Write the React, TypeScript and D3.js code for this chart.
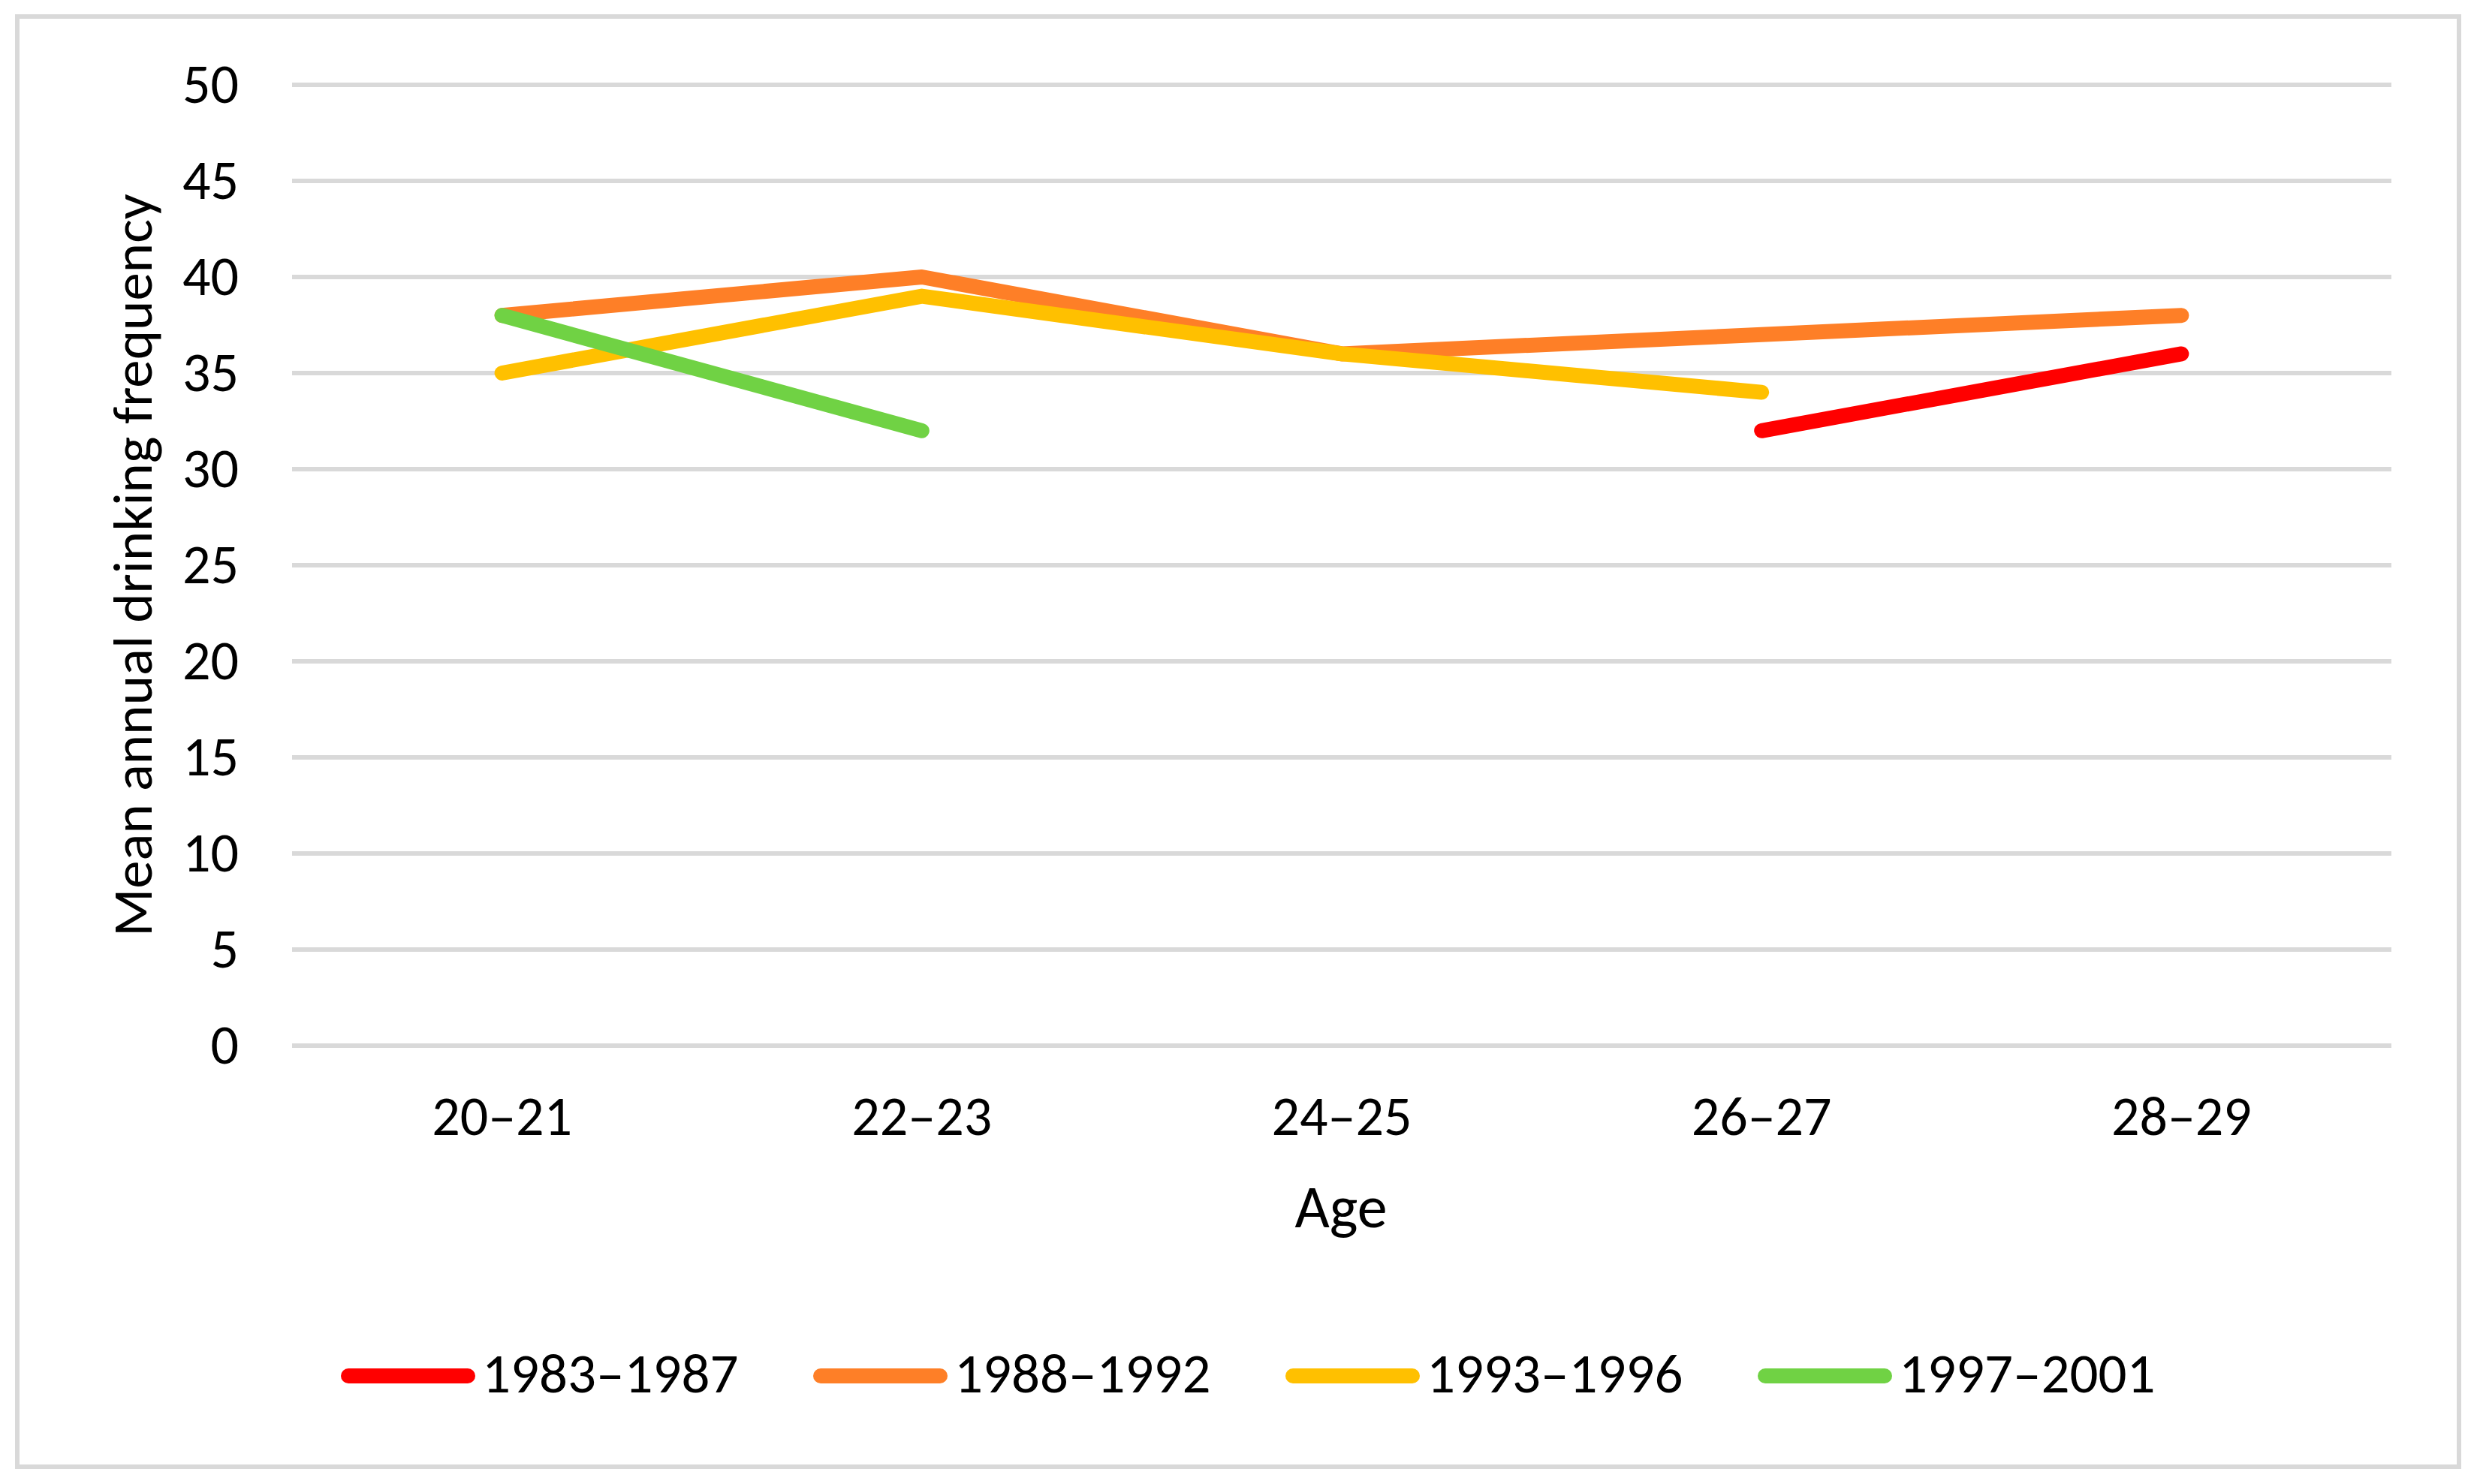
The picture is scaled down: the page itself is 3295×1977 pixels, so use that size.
import React from "react";
import * as d3 from "d3";

const categories = ["20–21", "22–23", "24–25", "26–27", "28–29"];
const seriesNames = ["1983–1987", "1988–1992", "1993–1996", "1997–2001"];
const seriesColors = ["#FF0000", "#FE7F27", "#FFC000", "#70D244"];
const s1983: (number | null)[] = [null, null, null, 32, 36];
const s1988: (number | null)[] = [38, 40, 36, 37, 38];
const s1993: (number | null)[] = [35, 39, 36, 34, null];
const s1997: (number | null)[] = [38, 32, null, null, null];
const seriesValues = [s1983, s1988, s1993, s1997];
const yTicks = [0, 5, 10, 15, 20, 25, 30, 35, 40, 45, 50];
const yTitle = "Mean annual drinking frequency";
const xTitle = "Age";

const W = 3295;
const H = 1977;
const FONT = "Calibri, Carlito, 'Liberation Sans', Arial, sans-serif";

export default function App() {
  const x = d3.scaleBand<string>().domain(categories).range([389, 3185]).padding(0);
  const y = d3.scaleLinear().domain([0, 50]).range([1393, 113]);
  const line = d3
    .line<number | null>()
    .defined((d) => d !== null)
    .x((_, i) => (x(categories[i]) as number) + x.bandwidth() / 2)
    .y((d) => y(d as number));

  const legendStart = 454;
  const legendStep = 629;
  const legendY = 1833;

  return (
    <div style={{ position: "fixed", left: 0, top: 0 }}>
      <svg width={W} height={H} viewBox={`0 0 ${W} ${H}`} style={{ display: "block", background: "#fff" }}>
        <rect x={0} y={0} width={W} height={H} fill="#fff" />
        <rect x={23} y={22} width={3252} height={1932} fill="none" stroke="#D9D9D9" strokeWidth={6} />
        {yTicks.map((t) => (
          <g key={t}>
            <line x1={389} x2={3185} y1={y(t)} y2={y(t)} stroke="#D9D9D9" strokeWidth={6} />
            <text
              x={318}
              y={y(t) + 24}
              textAnchor="end"
              fontFamily={FONT}
              fontSize={74}
              fill="#000"
            >
              {t}
            </text>
          </g>
        ))}
        {categories.map((c) => (
          <text
            key={c}
            x={(x(c) as number) + x.bandwidth() / 2}
            y={1512}
            textAnchor="middle"
            fontFamily={FONT}
            fontSize={74}
            fill="#000"
          >
            {c}
          </text>
        ))}
        <text x={1786} y={1635} textAnchor="middle" fontFamily={FONT} fontSize={80} fill="#000">
          {xTitle}
        </text>
        <text
          transform={`translate(202, 753) rotate(-90)`}
          textAnchor="middle"
          fontFamily={FONT}
          fontSize={75}
          fill="#000"
        >
          {yTitle}
        </text>
        {seriesValues.map((vals, i) => (
          <path
            key={seriesNames[i]}
            d={line(vals) || ""}
            fill="none"
            stroke={seriesColors[i]}
            strokeWidth={20}
            strokeLinecap="round"
            strokeLinejoin="round"
          />
        ))}
        {seriesNames.map((n, i) => {
          const sx = legendStart + i * legendStep;
          return (
            <g key={n}>
              <line
                x1={sx + 10}
                x2={sx + 169}
                y1={legendY}
                y2={legendY}
                stroke={seriesColors[i]}
                strokeWidth={20}
                strokeLinecap="round"
              />
              <text x={sx + 188} y={1855} fontFamily={FONT} fontSize={75} fill="#000">
                {n}
              </text>
            </g>
          );
        })}
      </svg>
    </div>
  );
}
